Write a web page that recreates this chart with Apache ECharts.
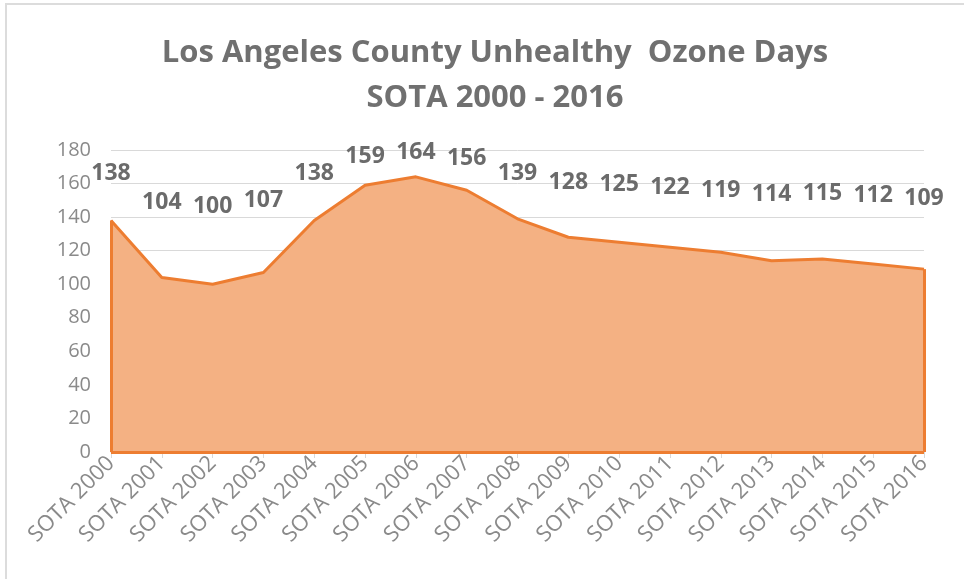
<!DOCTYPE html>
<html>
<head>
<meta charset="utf-8">
<script src="https://cdn.jsdelivr.net/npm/echarts@6/dist/echarts.min.js"></script>
<style>
  html, body { margin: 0; padding: 0; background: #fff; }
  #chart { width: 964px; height: 579px; }
</style>
</head>
<body>
<div id="chart"></div>
<script>
const categories = ['SOTA 2000', 'SOTA 2001', 'SOTA 2002', 'SOTA 2003', 'SOTA 2004', 'SOTA 2005',
  'SOTA 2006', 'SOTA 2007', 'SOTA 2008', 'SOTA 2009', 'SOTA 2010', 'SOTA 2011', 'SOTA 2012',
  'SOTA 2013', 'SOTA 2014', 'SOTA 2015', 'SOTA 2016'];
const ozoneDays = [138, 104, 100, 107, 138, 159, 164, 156, 139, 128, 125, 122, 119, 114, 115, 112, 109];

const chart = echarts.init(document.getElementById('chart'));

// Excel puts the labels of the area chart higher for low values, lower for high ones
const seriesData = ozoneDays.map((v) => ({
  value: v,
  label: { distance: Math.max(4, 149 - 0.833 * v) },
}));

const option = {
  animation: false,
  textStyle: { fontFamily: 'Open Sans' },
  title: {
    text: 'Los Angeles County Unhealthy  Ozone Days\nSOTA 2000 - 2016',
    left: 490,
    textAlign: 'center',
    top: 26,
    textStyle: {
      fontSize: 31,
      fontWeight: 'bold',
      color: '#707070',
      lineHeight: 45,
      fontFamily: 'Open Sans',
    },
  },
  graphic: [
    { type: 'line', shape: { x1: 5, y1: 4, x2: 964, y2: 4 }, style: { stroke: '#dcdcdc', lineWidth: 2 } },
    { type: 'line', shape: { x1: 6, y1: 4, x2: 6, y2: 579 }, style: { stroke: '#dcdcdc', lineWidth: 2 } },
  ],
  grid: { left: 111, right: 40, top: 150, bottom: 127 },
  xAxis: {
    type: 'category',
    data: categories,
    boundaryGap: false,
    axisLine: { lineStyle: { color: '#d9d9d9' } },
    axisTick: { show: true, length: 6, lineStyle: { color: '#d9d9d9' } },
    axisLabel: { rotate: 45, fontSize: 22, color: '#8a8a8a', margin: 8 },
  },
  yAxis: {
    type: 'value',
    min: 0,
    max: 180,
    interval: 20,
    axisLine: { show: false },
    axisTick: { show: false },
    axisLabel: { fontSize: 20, color: '#8a8a8a', margin: 20 },
    splitLine: { lineStyle: { color: '#d9d9d9', width: 1 } },
  },
  series: [
    {
      name: 'Unhealthy Ozone Days',
      type: 'line',
      data: seriesData,
      symbol: 'circle',
      symbolSize: 2,
      showSymbol: true,
      itemStyle: { color: 'rgba(237,125,49,0)', borderWidth: 0 },
      lineStyle: { color: '#ED7D31', width: 3 },
      areaStyle: { color: '#F4B183', opacity: 1 },
      label: {
        show: true,
        position: 'top',
        offset: [5, 0],
        fontSize: 23,
        fontWeight: 'bold',
        color: '#6b6b6b',
      },
      labelLayout: { hideOverlap: false },
      markLine: {
        silent: true,
        symbol: 'none',
        label: { show: false },
        lineStyle: { color: '#ED7D31', width: 3, type: 'solid' },
        data: [
          [{ coord: [categories[0], 0] }, { coord: [categories[0], ozoneDays[0]] }],
          [{ coord: [categories[categories.length - 1], 0] }, { coord: [categories[categories.length - 1], ozoneDays[ozoneDays.length - 1]] }],
          [{ coord: [categories[0], 0] }, { coord: [categories[categories.length - 1], 0] }],
        ],
      },
    },
  ],
};

chart.setOption(option);
</script>
</body>
</html>
